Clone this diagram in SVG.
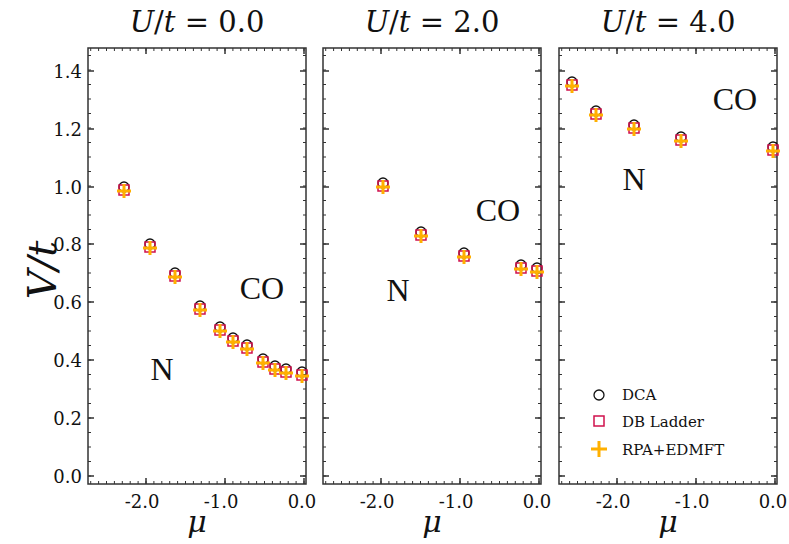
<svg xmlns="http://www.w3.org/2000/svg" xmlns:xlink="http://www.w3.org/1999/xlink" width="789" height="544" viewBox="0 0 789 544">
<style>
text{font-family:"DejaVu Serif","Liberation Serif",serif;fill:#111}
.tk{font-size:18px;text-anchor:middle}
.yl{font-size:18px;text-anchor:end}
.ttl{font-size:29px;text-anchor:middle}
.reg{font-size:32px;text-anchor:middle;font-family:"Liberation Serif",serif}
.leg{font-size:15px}
.ax{fill:none;stroke:#333;stroke-width:1.5}
.mn{stroke:#333;stroke-width:3}
.c{fill:none;stroke:#111;stroke-width:1.3}
.s{fill:none;stroke:#d0104c;stroke-width:1.5}
.p{fill:none;stroke:#ffb000;stroke-width:3}
.i{font-style:italic}
</style>
<defs>
<g id="frame">
<rect class="ax" x="0" y="48" width="218" height="436"/>
<line class="mn" x1="1.5" y1="476.5" x2="1.5" y2="48" stroke-dasharray="1 13.5"/>
<line class="mn" x1="216.5" y1="476.5" x2="216.5" y2="48" stroke-dasharray="1 13.5"/>
<line class="mn" x1="216.5" y1="482.5" x2="0" y2="482.5" stroke-dasharray="1 6.9"/>
<line class="mn" x1="216.5" y1="49.5" x2="0" y2="49.5" stroke-dasharray="1 6.9"/>
<path class="ax" d="M0 476h6M0 418h6M0 360h6M0 302h6M0 244h6M0 187h6M0 129h6M0 71h6M218 476h-6M218 418h-6M218 360h-6M218 302h-6M218 244h-6M218 187h-6M218 129h-6M218 71h-6M58 484v-6M137 484v-6M216 484v-6M58 48v6M137 48v6M216 48v6"/>
</g>
<g id="m"><circle class="c" cx="0" cy="-3" r="5"/><rect class="s" x="-5" y="-5" width="10" height="10"/><path class="p" d="M-7 1h14M0 -6v14"/></g>
</defs>
<g id="panel1">
<use xlink:href="#frame" x="88"/>
<text class="ttl" x="197" y="32"><tspan class="i">U</tspan>/<tspan class="i">t</tspan> = 0.0</text>
<g class="yl"><text x="82" y="483">0.0</text><text x="82" y="425">0.2</text><text x="82" y="367">0.4</text><text x="82" y="309">0.6</text><text x="82" y="251">0.8</text><text x="82" y="194">1.0</text><text x="82" y="136">1.2</text><text x="82" y="78">1.4</text></g>
<text class="tk" x="142" y="508">-2.0</text><text class="tk" x="221" y="508">-1.0</text><text class="tk" x="302" y="508">0.0</text>
<text x="197" y="532" font-size="30" font-style="italic" text-anchor="middle">μ</text>
<text class="reg" x="262" y="299">CO</text><text class="reg" x="162" y="380">N</text>
<use xlink:href="#m" x="124" y="190"/><use xlink:href="#m" x="150" y="247"/><use xlink:href="#m" x="175" y="276"/><use xlink:href="#m" x="200" y="309"/><use xlink:href="#m" x="220" y="330"/><use xlink:href="#m" x="233" y="341"/><use xlink:href="#m" x="247" y="348"/><use xlink:href="#m" x="263" y="362"/><use xlink:href="#m" x="275" y="369"/><use xlink:href="#m" x="286" y="372"/><use xlink:href="#m" x="302" y="375"/>
</g>
<g id="panel2">
<use xlink:href="#frame" x="323"/>
<text class="ttl" x="432" y="32"><tspan class="i">U</tspan>/<tspan class="i">t</tspan> = 2.0</text>
<text class="tk" x="377" y="508">-2.0</text><text class="tk" x="456" y="508">-1.0</text><text class="tk" x="537" y="508">0.0</text>
<text x="432" y="532" font-size="30" font-style="italic" text-anchor="middle">μ</text>
<text class="reg" x="498" y="221">CO</text><text class="reg" x="398" y="301">N</text>
<use xlink:href="#m" x="383" y="186"/><use xlink:href="#m" x="421" y="235"/><use xlink:href="#m" x="464" y="256"/><use xlink:href="#m" x="521" y="268"/><use xlink:href="#m" x="537" y="271"/>
</g>
<g id="panel3">
<use xlink:href="#frame" x="559"/>
<text class="ttl" x="668" y="32"><tspan class="i">U</tspan>/<tspan class="i">t</tspan> = 4.0</text>
<text class="tk" x="613" y="508">-2.0</text><text class="tk" x="692" y="508">-1.0</text><text class="tk" x="773" y="508">0.0</text>
<text x="668" y="532" font-size="30" font-style="italic" text-anchor="middle">μ</text>
<text class="reg" x="735" y="110">CO</text><text class="reg" x="634" y="190">N</text>
<use xlink:href="#m" x="572" y="85"/><use xlink:href="#m" x="596" y="114"/><use xlink:href="#m" x="634" y="128"/><use xlink:href="#m" x="681" y="140"/><use xlink:href="#m" x="773" y="150"/>
</g>
<g id="legend">
<circle class="c" cx="599" cy="395" r="5"/><text class="leg" x="622" y="400">DCA</text>
<rect class="s" x="594" y="416" width="10" height="10"/><text class="leg" x="622" y="427">DB Ladder</text>
<path class="p" d="M591 449h16M599 441v16"/><text class="leg" x="622" y="455">RPA+EDMFT</text>
</g>
<text x="42" y="270" font-size="40" font-style="italic" text-anchor="middle" transform="rotate(-90 42 270)" dy="14">V/t</text>
</svg>
